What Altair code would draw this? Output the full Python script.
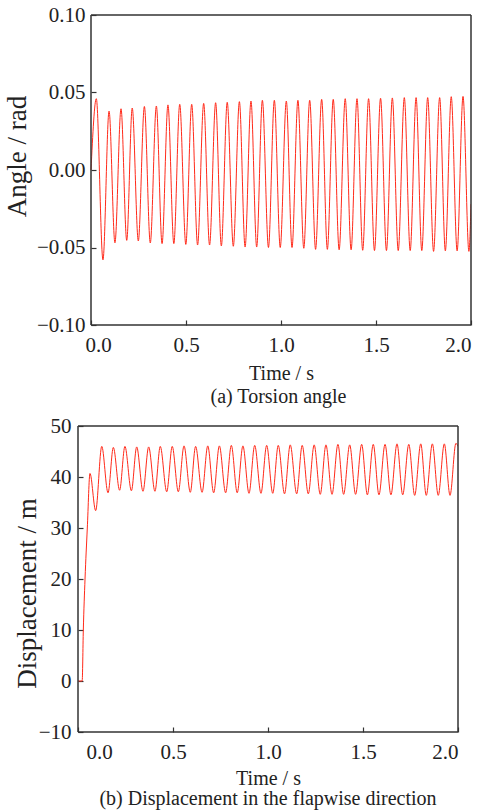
import altair as alt
import pandas as pd

FONT = "Liberation Serif"
RED = "#ff2a1a"
INK = "#333333"

# ---------------- (a) Torsion angle ----------------
angle_start_time = [0.0]
angle_start_value = [0.0]
angle_peak_time = [0.028, 0.095, 0.158, 0.217, 0.281, 0.344, 0.405, 0.467, 0.530, 0.593,
                   0.656, 0.717, 0.781, 0.842, 0.902, 0.965, 1.028, 1.089, 1.151, 1.214,
                   1.275, 1.338, 1.400, 1.461, 1.524, 1.586, 1.649, 1.711, 1.772, 1.835,
                   1.896, 1.958]
angle_peak = [0.046, 0.038, 0.0395, 0.040, 0.041, 0.0413, 0.042, 0.0424, 0.0424, 0.043,
              0.0434, 0.0437, 0.0441, 0.0445, 0.045, 0.045, 0.0445, 0.045, 0.045, 0.0456,
              0.0456, 0.046, 0.046, 0.046, 0.0463, 0.0465, 0.0467, 0.0467, 0.0467, 0.0467,
              0.0473, 0.0475]
angle_trough_time = [0.063, 0.126, 0.188, 0.249, 0.312, 0.374, 0.436, 0.499, 0.561, 0.624,
                     0.686, 0.749, 0.811, 0.872, 0.934, 0.996, 1.058, 1.120, 1.182, 1.244,
                     1.306, 1.369, 1.430, 1.492, 1.555, 1.617, 1.680, 1.741, 1.803, 1.865,
                     1.927, 1.989]
angle_trough = [-0.058, -0.047, -0.0454, -0.0458, -0.0471, -0.0475, -0.0475, -0.048, -0.0484, -0.0484,
                -0.049, -0.0492, -0.0497, -0.0497, -0.050, -0.050, -0.050, -0.0505, -0.0512, -0.0512,
                -0.0515, -0.0515, -0.0518, -0.052, -0.052, -0.052, -0.052, -0.052, -0.0525, -0.0522,
                -0.0522, -0.0525]
angle_end_time = [2.0]
angle_end_value = [-0.022]

# ---------------- (b) Flapwise displacement ----------------
disp_start_time = [0.0, 0.022, 0.028, 0.037, 0.049, 0.063, 0.093]
disp_start_value = [0.0, 0.0, 10.0, 20.0, 30.0, 40.7, 33.4]
disp_peak_time = [0.125, 0.186, 0.247, 0.309, 0.372, 0.433, 0.496, 0.558, 0.619, 0.683,
                  0.744, 0.807, 0.868, 0.930, 0.993, 1.054, 1.117, 1.180, 1.243, 1.305,
                  1.368, 1.430, 1.493, 1.554, 1.616, 1.679, 1.741, 1.804, 1.865, 1.928,
                  1.989]
disp_peak = [46.0, 45.8, 46.0, 45.9, 45.9, 46.0, 46.0, 46.1, 46.0, 46.1,
             46.1, 46.2, 46.1, 46.2, 46.2, 46.2, 46.3, 46.2, 46.3, 46.3,
             46.4, 46.3, 46.4, 46.4, 46.4, 46.5, 46.4, 46.5, 46.5, 46.5,
             46.6]
disp_trough_time = [0.158, 0.219, 0.281, 0.342, 0.405, 0.467, 0.528, 0.591, 0.653, 0.714,
                    0.777, 0.838, 0.900, 0.963, 1.025, 1.087, 1.151, 1.212, 1.275, 1.337,
                    1.398, 1.461, 1.523, 1.584, 1.647, 1.709, 1.772, 1.833, 1.896, 1.958]
disp_trough = [36.9, 37.4, 37.3, 37.2, 37.2, 37.1, 37.1, 37.0, 37.0, 36.9,
               36.9, 36.9, 36.8, 36.8, 36.8, 36.7, 36.7, 36.7, 36.6, 36.6,
               36.6, 36.6, 36.5, 36.5, 36.5, 36.5, 36.4, 36.4, 36.4, 36.4]
disp_end_time = [2.0]
disp_end_value = [46.0]

x_ticks = [0.0, 0.5, 1.0, 1.5, 2.0]
angle_ticks = [-0.10, -0.05, 0.0, 0.05, 0.10]
disp_ticks = [-10, 0, 10, 20, 30, 40, 50]


def build(t0, v0, tp, vp, tt, vt, te, ve):
    t = list(t0) + list(tp) + list(tt) + list(te)
    v = list(v0) + list(vp) + list(vt) + list(ve)
    return pd.DataFrame({"t": t, "v": v}).sort_values("t").reset_index(drop=True)


angle_df = build(angle_start_time, angle_start_value, angle_peak_time, angle_peak,
                 angle_trough_time, angle_trough, angle_end_time, angle_end_value)
disp_df = build(disp_start_time, disp_start_value, disp_peak_time, disp_peak,
                disp_trough_time, disp_trough, disp_end_time, disp_end_value)


def frame_df(ymin, ymax):
    # the four sides of the plot box, in data units (time 0..2, y-range)
    return pd.DataFrame({
        "t": [0.0, 2.0, 0.0, 0.0],
        "t2": [0.0, 2.0, 2.0, 2.0],
        "v": [ymin, ymin, ymax, ymin],
        "v2": [ymax, ymax, ymax, ymin],
    })


def panel(df, ytitle, ydomain, yticks, yfmt, caption, width, height, xmin, yoff,
          xlp, ylp, ytp, xtp, xtitle_x, ytitle_y, zero_shift, capoff, capdx, ytfs):
    xs = alt.Scale(domain=[xmin, 2], nice=False, zero=False)
    ys = alt.Scale(domain=ydomain, nice=False, zero=False)
    xaxis = alt.Axis(values=x_ticks, format=".1f", title="Time / s",
                     offset=-5, tickSize=5, domain=False, grid=False,
                     labelPadding=xlp, titlePadding=xtp, titleX=xtitle_x,
                     labelOffset={"condition": {"test": "datum.value === 0", "value": zero_shift},
                                  "value": 0})
    yaxis = alt.Axis(values=yticks, format=yfmt, title=ytitle,
                     offset=yoff, tickSize=5, domain=False, grid=False,
                     labelPadding=ylp, titlePadding=ytp, titleFontSize=ytfs,
                     titleY=ytitle_y)
    line = alt.Chart(df).mark_line(
        color=RED, strokeWidth=1, interpolate="monotone", clip=True
    ).encode(x=alt.X("t:Q", scale=xs, axis=xaxis), y=alt.Y("v:Q", scale=ys, axis=yaxis))
    box = alt.Chart(frame_df(*ydomain)).mark_rule(
        color=INK, strokeWidth=1.5
    ).encode(x=alt.X("t:Q", scale=xs, axis=xaxis), x2="t2:Q",
             y=alt.Y("v:Q", scale=ys, axis=yaxis), y2="v2:Q")
    return alt.layer(line, box).properties(
        width=width, height=height,
        title=alt.TitleParams(caption, orient="bottom", anchor="middle",
                              font=FONT, fontSize=20, fontWeight="normal",
                              color="#222222", offset=capoff, dx=capdx),
    )


# top panel: view starts 13 px left of t = 0 so its box sits 13 px right of the lower one
top = panel(angle_df, "Angle / rad", [-0.1, 0.1], angle_ticks, ".2f",
            "(a) Torsion angle", 393, 310, -13 / 190, -18,
            9, 6, 5, 8, 203, 141, 7, 4, 4, 27)
bottom = panel(disp_df, "Displacement / m", [-10, 50], disp_ticks, "d",
               "(b) Displacement in the flapwise direction", 380, 306, 0, -5,
               9, 7, -3, 6, 190, 167, 8, 1, 0, 27)

chart = alt.vconcat(top, bottom, spacing=6).properties(
    padding={"left": 2, "top": 3, "right": 2, "bottom": 0},
    background="white",
).configure_view(
    stroke="transparent"
).configure_axis(
    labelFont=FONT, titleFont=FONT, labelFontSize=21, titleFontSize=20,
    labelColor="#222222", titleColor="#222222", titleFontWeight="normal",
    tickColor=INK, tickWidth=1.2,
)

chart.save("out.html", embed_options={"renderer": "svg", "actions": False})
